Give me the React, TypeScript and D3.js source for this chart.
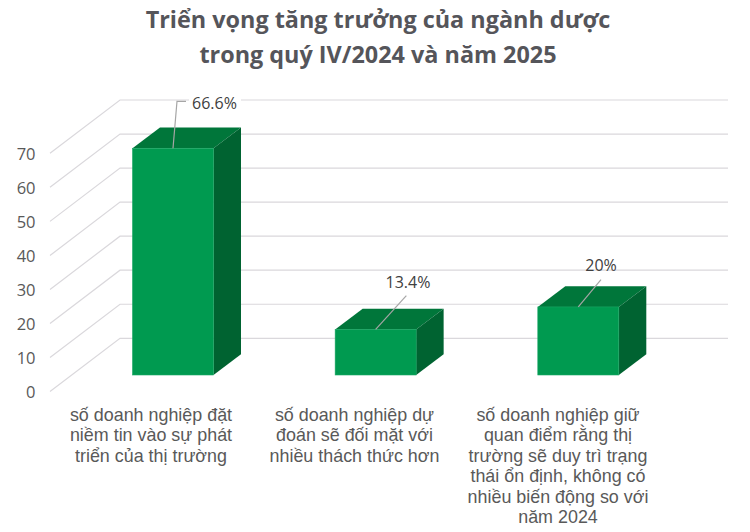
import React from "react";
import * as d3 from "d3";

const W = 750, H = 532;
const titleLines = ["Triển vọng tăng trưởng của ngành dược", "trong quý IV/2024 và năm 2025"];
const categories = ["a", "b", "c"];
const values = [66.6, 13.4, 20];
const valueLabels = ["66.6%", "13.4%", "20%"];
const ticks = [0, 10, 20, 30, 40, 50, 60, 70];
const categoryLines = [
  ["số doanh nghiệp đặt", "niềm tin vào sự phát", "triển của thị trường"],
  ["số doanh nghiệp dự", "đoán sẽ đối mặt với", "nhiều thách thức hơn"],
  ["số doanh nghiệp giữ", "quan điểm rằng thị", "trường sẽ duy trì trạng", "thái ổn định, không có", "nhiều biến động so với", "năm 2024"],
];

const yScale = d3.scaleLinear().domain([0, 70]).range([0, 238.3]);
const xCenter = d3.scalePoint<string>().domain(categories).range([173, 578.3]);
const labelCenter = d3.scalePoint<string>().domain(categories).range([151, 558]);
const leader: [number, number, number][] = [
  [4, -47, 9], [30.7, -33.7, 0], [22.7, -27.3, 0],
];
const labelPos = [[192, 103], [408, 282], [601, 265]];

export default function App() {
  const barW = 81, dx = 27.5, dy = 20.7, base = 375;
  const fontTick = "'Open Sans', sans-serif";
  return (
    <svg width={W} height={H} viewBox={`0 0 ${W} ${H}`} style={{ position: "absolute", left: 0, top: 0, background: "#fff" }}>
      {ticks.map(t => {
        const h = yScale(t);
        return (
          <g key={t}>
            <path d={d3.line()([[50, 391.6 - h], [120, 338.3 - h], [728, 338.3 - h]]) ?? ""} fill="none" stroke="#dad8dc" strokeWidth={1.2} />
            <text x={35.5} y={392.4 - h} dy="0.35em" textAnchor="end" fontFamily={fontTick} fontSize={16.5} fill="#595959">{t}</text>
          </g>
        );
      })}
      <rect x={189} y={93} width={52} height={20} fill="#fff" />
      {categories.map((c, i) => {
        const cx = xCenter(c)!;
        const h = yScale(values[i]);
        const x0 = cx - barW / 2, x1 = cx + barW / 2, top = base - h;
        const mk = d3.line();
        const [ldx, ldy, hx] = leader[i];
        return (
          <g key={c}>
            <path d={mk([[x0, top], [x1, top], [x1 + dx, top - dy], [x0 + dx, top - dy]])! + "Z"} fill="#00763a" />
            <path d={mk([[x1, top], [x1 + dx, top - dy], [x1 + dx, base - dy], [x1, base]])! + "Z"} fill="#006331" />
            <rect x={x0} y={top} width={barW} height={h} fill="#009a50" stroke="#1aa765" strokeWidth={0.6} />
            <path d={mk(hx ? [[cx, top], [cx + ldx, top + ldy], [cx + ldx + hx, top + ldy]] : [[cx, top], [cx + ldx, top + ldy]])!} fill="none" stroke="#a6a6a6" strokeWidth={1.2} />
            <text x={labelPos[i][0]} y={labelPos[i][1]} dy="0.35em" fontFamily={fontTick} fontSize={16} fill="#404040" textAnchor={i === 0 ? "start" : "middle"}>{valueLabels[i]}</text>
            <text fontFamily="'Liberation Sans', Arial, sans-serif" fontSize={17.9} fill="#595959" textAnchor="middle">
              {categoryLines[i].map((l, j) => (
                <tspan key={j} x={labelCenter(c)} y={421 + j * 20.4}>{l}</tspan>
              ))}
            </text>
          </g>
        );
      })}
      <text fontFamily="'Open Sans', sans-serif" fontWeight={700} fontSize={23.4} fill="#55555a" textAnchor="middle">
        {titleLines.map((l, j) => (
          <tspan key={j} x={378} y={28 + j * 34.5}>{l}</tspan>
        ))}
      </text>
    </svg>
  );
}
